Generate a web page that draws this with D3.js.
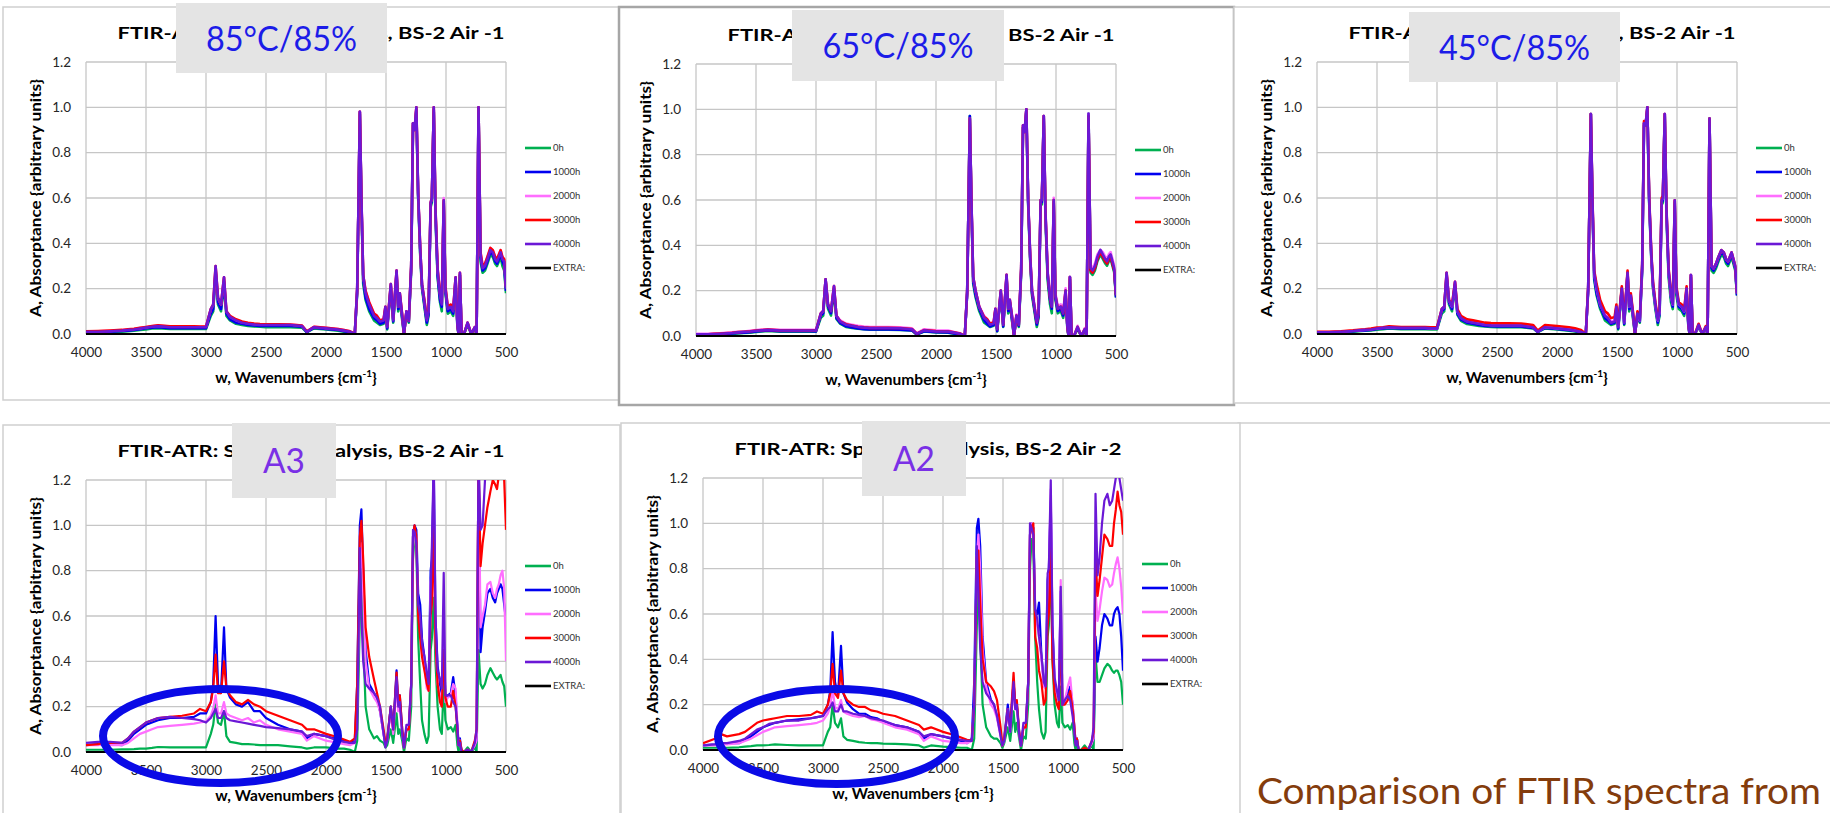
<!DOCTYPE html>
<html>
<head>
<meta charset="utf-8">
<script src="https://cdn.jsdelivr.net/npm/d3@7"></script>
<style>
  body { margin: 0; background: #fff; }
  svg text { font-family: Lato, 'Open Sans', sans-serif; }
</style>
</head>
<body>
<svg id="chart" width="1830" height="813"></svg>
<script>
// shared wavenumber grid (cm-1)
const wavenumbers = [
  4000, 3900, 3850, 3800, 3700, 3650, 3600, 3550, 3500, 3450,
  3400, 3300, 3200, 3100, 3050, 3000, 2960, 2940, 2920, 2900,
  2875, 2850, 2830, 2800, 2750, 2700, 2650, 2600, 2550, 2500,
  2400, 2300, 2200, 2160, 2100, 2000, 1900, 1850, 1800, 1760,
  1740, 1718, 1705, 1690, 1670, 1640, 1600, 1575, 1550, 1520,
  1505, 1490, 1460, 1440, 1412, 1398, 1385, 1365, 1350, 1330,
  1310, 1290, 1275, 1262, 1247, 1232, 1215, 1200, 1180, 1160,
  1145, 1128, 1118, 1102, 1088, 1070, 1050, 1035, 1019, 1005,
  985, 960, 940, 920, 905, 895, 884, 870, 850, 820,
  790, 760, 745, 729, 712, 695, 675, 655, 630, 610,
  590, 575, 560, 545, 530, 515, 500
];

const seriesNames = ['0h', '1000h', '2000h', '3000h', '4000h', 'EXTRA:'];
const seriesColors = ['#00b050', '#0000f0', '#ff6eff', '#ff0000', '#6b18d6', '#000000'];
const xTicks = [4000, 3500, 3000, 2500, 2000, 1500, 1000, 500];
const yTicks = [0, 0.2, 0.4, 0.6, 0.8, 1.0, 1.2];

// 85°C/85%
const t85_0h = [
  .005,.005,.006,.007,.01,.012,.014,.018,.02,.024,
  .026,.022,.022,.022,.022,.022,.08,.1,.27,.13,
  .1,.22,.08,.06,.045,.04,.035,.033,.032,.03,
  .03,.03,.028,.008,.025,.02,.015,.01,.005,0,
  .18,.97,.58,.22,.15,.1,.06,.05,.04,.045,
  .11,.02,.2,.05,.26,.1,.16,.06,0,.09,
  .05,.28,.92,.9,.98,.6,.35,.2,.12,.04,
  .08,.56,.58,.98,.52,.25,.14,.1,.57,.18,
  .09,.1,.08,.23,.03,0,.26,0,0,.04,
  0,.02,0,.99,.32,.27,.28,.31,.35,.34,
  .31,.3,.32,.34,.3,.28,.18
];
const t85_1000h = [
  .008,.008,.009,.01,.013,.015,.018,.021,.025,.028,
  .03,.026,.026,.026,.026,.026,.09,.11,.28,.14,
  .11,.23,.09,.065,.05,.045,.04,.038,.036,.035,
  .035,.035,.032,.008,.028,.022,.018,.012,.008,0,
  .19,.98,.59,.24,.16,.11,.07,.06,.045,.05,
  .11,.025,.21,.055,.27,.11,.17,.07,0,.095,
  .055,.29,.93,.9,.99,.61,.36,.21,.13,.05,
  .09,.57,.59,.99,.54,.26,.15,.12,.58,.19,
  .1,.11,.09,.24,.035,0,.26,0,0,.045,
  0,.025,0,1.0,.34,.28,.29,.32,.36,.35,
  .32,.31,.33,.35,.32,.3,.19
];
const t85_2000h = [
  .012,.012,.013,.014,.017,.02,.022,.026,.03,.034,
  .037,.033,.033,.033,.032,.032,.11,.13,.29,.16,
  .13,.25,.1,.078,.062,.052,.047,.044,.042,.042,
  .042,.042,.037,.012,.032,.027,.022,.017,.012,0,
  .2,.98,.6,.26,.19,.14,.09,.08,.06,.065,
  .12,.035,.22,.065,.28,.12,.18,.085,0,.1,
  .06,.3,.93,.9,1.0,.62,.38,.22,.15,.07,
  .11,.58,.6,1.0,.56,.29,.18,.14,.6,.21,
  .12,.13,.11,.25,.045,0,.27,0,0,.05,
  0,.03,0,1.0,.36,.3,.31,.34,.38,.37,
  .34,.33,.35,.37,.34,.33,.21
];
const t85_3000h = [
  .012,.013,.014,.015,.018,.021,.023,.027,.031,.035,
  .038,.034,.034,.034,.033,.033,.11,.13,.3,.16,
  .13,.25,.1,.08,.065,.055,.05,.046,.044,.043,
  .043,.042,.037,.012,.032,.027,.022,.017,.012,0,
  .2,.98,.6,.26,.19,.14,.09,.08,.06,.065,
  .12,.035,.22,.065,.28,.12,.18,.085,0,.1,
  .06,.3,.93,.9,1.0,.62,.38,.22,.15,.07,
  .11,.58,.6,1.0,.56,.29,.18,.14,.59,.21,
  .12,.13,.11,.25,.045,0,.27,0,0,.05,
  0,.03,0,1.0,.36,.3,.31,.34,.38,.37,
  .34,.33,.35,.37,.34,.33,.21
];
const t85_4000h = [
  .01,.01,.011,.012,.015,.018,.02,.024,.028,.032,
  .035,.03,.03,.03,.03,.03,.11,.13,.3,.16,
  .13,.25,.1,.075,.06,.05,.045,.042,.04,.04,
  .04,.04,.035,.01,.03,.025,.02,.015,.01,0,
  .2,.98,.6,.26,.18,.13,.08,.07,.055,.06,
  .12,.03,.22,.06,.28,.12,.18,.08,0,.1,
  .06,.3,.93,.9,1.0,.62,.38,.22,.14,.06,
  .1,.58,.6,1.0,.55,.28,.17,.13,.59,.2,
  .11,.12,.1,.25,.04,0,.27,0,0,.05,
  0,.03,0,1.0,.35,.29,.3,.33,.37,.36,
  .33,.32,.34,.36,.33,.32,.2
];

// 65°C/85%
const t65_0h = [
  .004,.004,.005,.006,.009,.011,.013,.015,.018,.02,
  .022,.019,.019,.019,.019,.019,.08,.09,.24,.12,
  .09,.2,.075,.055,.04,.036,.032,.03,.028,.028,
  .028,.027,.024,.006,.02,.016,.015,.01,.006,0,
  .19,.97,.58,.23,.17,.11,.06,.05,.04,.045,
  .11,.02,.19,.04,.26,.1,.15,.06,0,.08,
  .04,.28,.92,.9,.99,.58,.33,.18,.11,.04,
  .08,.58,.58,.96,.52,.25,.14,.1,.58,.16,
  .1,.11,.08,.18,.03,0,.25,0,0,.03,
  0,.02,0,.98,.28,.27,.29,.33,.36,.34,
  .32,.31,.33,.34,.31,.28,.17
];
const t65_1000h = [
  .006,.006,.007,.008,.011,.013,.015,.017,.02,.022,
  .024,.021,.021,.021,.021,.02,.09,.1,.25,.13,
  .1,.21,.08,.058,.043,.038,.033,.03,.029,.029,
  .029,.028,.025,.007,.021,.017,.016,.011,.007,0,
  .19,.97,.59,.24,.18,.12,.07,.055,.042,.048,
  .11,.022,.19,.042,.26,.11,.15,.065,0,.085,
  .045,.29,.92,.9,1.0,.59,.34,.19,.12,.05,
  .09,.59,.59,.97,.54,.27,.16,.12,.59,.17,
  .11,.12,.09,.19,.035,0,.26,0,0,.035,
  0,.025,0,.98,.29,.28,.3,.34,.37,.35,
  .33,.32,.34,.35,.32,.29,.17
];
const t65_2000h = [
  .01,.01,.011,.012,.016,.018,.02,.023,.026,.028,
  .03,.027,.027,.027,.027,.027,.1,.11,.25,.14,
  .12,.22,.09,.07,.055,.05,.045,.042,.04,.04,
  .04,.038,.034,.012,.03,.025,.024,.018,.012,0,
  .2,.96,.6,.26,.2,.13,.09,.075,.055,.06,
  .12,.035,.2,.055,.27,.12,.16,.085,0,.095,
  .055,.3,.93,.9,1.0,.6,.36,.21,.14,.07,
  .11,.6,.6,.97,.56,.29,.18,.14,.61,.19,
  .13,.14,.11,.21,.045,0,.26,0,0,.045,
  0,.035,0,.98,.31,.3,.32,.36,.38,.37,
  .35,.34,.36,.37,.34,.31,.19
];
const t65_3000h = [
  .008,.008,.01,.011,.014,.017,.019,.021,.024,.026,
  .028,.025,.025,.025,.025,.025,.1,.11,.25,.14,
  .11,.22,.09,.066,.052,.046,.041,.038,.036,.036,
  .036,.035,.031,.01,.026,.022,.021,.016,.011,0,
  .2,.96,.6,.26,.2,.13,.085,.075,.055,.06,
  .12,.03,.2,.05,.27,.12,.16,.08,0,.09,
  .05,.3,.93,.9,1.0,.6,.35,.2,.13,.06,
  .1,.6,.6,.97,.55,.28,.17,.13,.6,.18,
  .12,.13,.1,.2,.04,0,.26,0,0,.04,
  0,.03,0,.97,.29,.28,.3,.34,.37,.35,
  .33,.32,.34,.35,.32,.29,.18
];
const t65_4000h = [
  .008,.008,.009,.01,.013,.016,.018,.02,.023,.025,
  .027,.024,.024,.024,.024,.024,.1,.11,.25,.14,
  .11,.22,.09,.065,.05,.045,.04,.037,.035,.035,
  .035,.034,.03,.01,.025,.02,.02,.015,.01,0,
  .2,.96,.6,.26,.2,.13,.08,.07,.05,.055,
  .12,.03,.2,.05,.27,.12,.16,.08,0,.09,
  .05,.3,.93,.9,1.0,.6,.35,.2,.13,.06,
  .1,.6,.6,.97,.55,.28,.17,.13,.6,.18,
  .12,.13,.1,.2,.04,0,.26,0,0,.04,
  0,.03,0,.98,.3,.29,.31,.35,.38,.36,
  .34,.33,.35,.36,.33,.3,.18
];

// 45°C/85%
const t45_0h = [
  .005,.005,.006,.007,.01,.012,.014,.016,.019,.021,
  .024,.021,.021,.021,.02,.02,.09,.1,.25,.13,
  .1,.21,.085,.058,.044,.04,.036,.033,.031,.03,
  .03,.03,.025,.008,.025,.02,.015,.011,.007,0,
  .19,.97,.58,.24,.17,.11,.06,.05,.04,.045,
  .11,.02,.19,.04,.26,.1,.16,.06,0,.08,
  .05,.28,.92,.92,.99,.58,.34,.2,.11,.04,
  .08,.57,.58,.96,.52,.25,.14,.11,.57,.17,
  .11,.1,.08,.18,.03,0,.25,0,0,.03,
  0,.02,0,.95,.28,.27,.29,.32,.35,.34,
  .31,.3,.32,.34,.31,.28,.17
];
const t45_1000h = [
  .007,.007,.008,.009,.012,.014,.016,.018,.022,.024,
  .027,.024,.024,.024,.023,.023,.1,.11,.26,.14,
  .11,.22,.09,.064,.05,.045,.04,.036,.034,.033,
  .033,.033,.027,.009,.027,.022,.017,.013,.008,0,
  .2,.97,.59,.25,.18,.12,.07,.06,.045,.05,
  .11,.025,.2,.045,.27,.11,.16,.07,0,.085,
  .055,.29,.93,.92,1.0,.59,.35,.21,.12,.05,
  .09,.58,.59,.97,.54,.27,.16,.12,.58,.19,
  .12,.11,.09,.19,.035,0,.26,0,0,.035,
  0,.025,0,.95,.29,.28,.3,.33,.36,.35,
  .32,.31,.33,.35,.32,.29,.17
];
const t45_2000h = [
  .009,.009,.01,.011,.014,.017,.019,.021,.025,.028,
  .031,.028,.028,.028,.026,.026,.11,.12,.27,.15,
  .12,.23,.1,.072,.057,.052,.047,.042,.04,.039,
  .039,.039,.032,.011,.031,.026,.021,.016,.011,0,
  .2,.97,.6,.27,.2,.13,.085,.075,.055,.06,
  .12,.032,.2,.052,.27,.12,.17,.082,0,.09,
  .06,.3,.93,.92,1.0,.6,.36,.22,.13,.06,
  .1,.59,.6,.97,.55,.28,.17,.13,.59,.2,
  .13,.12,.1,.2,.04,0,.26,0,0,.04,
  0,.03,0,.95,.3,.29,.31,.34,.37,.36,
  .33,.32,.34,.36,.33,.3,.18
];
const t45_3000h = [
  .01,.01,.011,.012,.016,.019,.021,.024,.028,.03,
  .034,.031,.031,.031,.03,.03,.11,.12,.27,.15,
  .13,.23,.11,.08,.065,.06,.055,.05,.048,.047,
  .047,.046,.04,.015,.04,.035,.03,.025,.018,0,
  .21,.97,.61,.28,.22,.15,.1,.09,.07,.075,
  .13,.04,.21,.065,.28,.13,.18,.09,0,.1,
  .07,.31,.94,.92,1.0,.61,.37,.23,.14,.07,
  .11,.6,.61,.97,.56,.29,.18,.14,.59,.21,
  .14,.13,.11,.21,.045,0,.26,0,0,.045,
  0,.035,0,.95,.3,.29,.31,.34,.37,.36,
  .33,.32,.34,.36,.33,.3,.18
];
const t45_4000h = [
  .008,.008,.009,.01,.013,.016,.018,.02,.024,.027,
  .03,.027,.027,.027,.025,.025,.11,.12,.27,.15,
  .12,.23,.1,.07,.055,.05,.045,.04,.038,.037,
  .037,.037,.03,.01,.03,.025,.02,.015,.01,0,
  .2,.97,.6,.27,.2,.13,.08,.07,.05,.055,
  .12,.03,.2,.05,.27,.12,.17,.08,0,.09,
  .06,.3,.93,.92,1.0,.6,.36,.22,.13,.06,
  .1,.59,.6,.97,.55,.28,.17,.13,.59,.2,
  .13,.12,.1,.2,.04,0,.26,0,0,.04,
  0,.03,0,.95,.3,.29,.31,.34,.37,.36,
  .33,.32,.34,.36,.33,.3,.18
];

// A3 (BS-2 Air -1)
const a3_0h = [
  .01,.01,.01,.01,.012,.012,.013,.015,.015,.018,
  .022,.02,.02,.02,.02,.02,.08,.12,.21,.13,
  .12,.18,.07,.045,.04,.035,.035,.033,.03,.03,
  .03,.025,.02,.015,.02,.02,.015,.015,.01,0,
  .05,.6,.88,.5,.2,.1,.06,.07,.05,.04,
  .02,.03,.1,.04,.17,.08,.1,.05,0,.06,
  .05,.2,.85,.95,.9,.5,.3,.14,.08,.04,
  .07,.45,.5,.68,.4,.2,.1,.08,.3,.14,
  .1,.11,.09,.12,.03,0,.05,0,0,.02,
  0,.02,0,.45,.3,.28,.3,.34,.37,.35,
  .33,.32,.33,.34,.31,.29,.2
];
const a3_1000h = [
  .03,.035,.033,.035,.03,.05,.08,.1,.12,.13,
  .14,.15,.15,.155,.17,.17,.22,.3,.6,.3,
  .26,.55,.28,.24,.21,.2,.22,.18,.18,.15,
  .12,.1,.09,.06,.08,.07,.055,.05,.04,.05,
  .3,1.0,1.07,.8,.45,.3,.26,.24,.18,.08,
  .03,.05,.2,.1,.36,.2,.25,.1,.02,.1,
  .1,.3,.95,1.0,.98,.7,.65,.5,.42,.32,
  .3,.8,.85,1.25,.6,.38,.3,.25,.5,.24,
  .25,.26,.33,.25,.1,.03,.06,0,0,.01,
  0,.03,.05,1.3,.44,.55,.62,.7,.72,.68,
  .66,.7,.72,.74,.72,.65,.58
];
const a3_2000h = [
  .03,.03,.035,.03,.03,.04,.06,.08,.09,.1,
  .11,.115,.12,.125,.13,.135,.16,.19,.25,.17,
  .17,.22,.17,.16,.15,.14,.15,.13,.14,.12,
  .1,.09,.08,.05,.07,.05,.04,.035,.03,.04,
  .2,.8,.92,.7,.4,.28,.24,.22,.18,.08,
  .03,.05,.18,.08,.3,.18,.2,.08,.02,.1,
  .1,.3,.9,.98,.95,.62,.55,.45,.38,.28,
  .27,.75,.8,1.1,.5,.3,.25,.22,.6,.22,
  .24,.25,.3,.28,.12,.03,.05,0,0,.01,
  0,.03,.05,1.3,.55,.6,.65,.74,.75,.7,
  .68,.72,.74,.78,.8,.72,.4
];
const a3_3000h = [
  .03,.035,.04,.04,.04,.06,.09,.11,.13,.14,
  .15,.155,.16,.17,.19,.18,.22,.28,.43,.26,
  .26,.4,.28,.25,.22,.21,.23,.21,.2,.18,
  .16,.14,.12,.1,.1,.08,.065,.055,.045,.06,
  .3,.95,1.02,.85,.55,.42,.32,.26,.2,.1,
  .04,.06,.2,.1,.35,.22,.25,.1,.02,.1,
  .1,.3,.95,1.0,.95,.6,.5,.42,.36,.3,
  .27,.6,.65,1.0,.5,.3,.22,.2,.45,.24,
  .2,.2,.27,.2,.1,.03,.05,.01,0,.01,
  0,.05,.1,1.3,.82,.92,1.0,1.08,1.15,1.2,
  1.18,1.16,1.22,1.25,1.22,1.2,.98
];
const a3_4000h = [
  .04,.045,.045,.045,.04,.06,.09,.11,.13,.14,
  .15,.155,.15,.145,.14,.13,.15,.17,.19,.15,
  .15,.18,.15,.14,.135,.13,.125,.12,.115,.11,
  .105,.1,.09,.07,.08,.07,.05,.045,.04,.04,
  .1,.9,.6,.4,.3,.28,.26,.24,.2,.08,
  .02,.05,.2,.1,.33,.2,.22,.08,.02,.12,
  .12,.3,.98,.97,.92,.65,.6,.48,.42,.35,
  .3,.7,.9,1.3,.6,.36,.32,.28,.79,.25,
  .25,.25,.22,.2,.12,.03,.04,0,0,.01,
  0,.04,.1,1.3,.98,1.0,1.2,1.3,1.3,1.3,
  1.3,1.3,1.3,1.3,1.3,1.3,1.3
];

// A2 (BS-2 Air -2)
const a2_0h = [
  .01,.01,.01,.01,.012,.015,.017,.02,.02,.022,
  .025,.022,.02,.02,.02,.02,.08,.1,.2,.12,
  .1,.14,.06,.045,.04,.035,.032,.03,.03,.028,
  .027,.025,.02,.01,.02,.015,.012,.01,.01,0,
  .05,.55,.85,.5,.2,.1,.06,.05,.05,.03,
  .01,.03,.1,.04,.17,.08,.12,.05,0,.06,
  .05,.2,.8,.93,.9,.5,.3,.18,.08,.05,
  .08,.5,.55,.85,.4,.2,.12,.1,.28,.12,
  .1,.11,.09,.12,.03,0,.05,0,0,.02,
  0,.02,0,.42,.3,.3,.33,.36,.38,.37,
  .35,.34,.35,.35,.33,.3,.2
];
const a2_1000h = [
  .02,.025,.03,.03,.03,.045,.06,.08,.1,.11,
  .12,.13,.135,.14,.145,.15,.2,.26,.52,.3,
  .24,.46,.25,.21,.18,.16,.16,.145,.14,.125,
  .11,.1,.08,.05,.07,.06,.045,.04,.03,.05,
  .3,.98,1.02,.9,.5,.3,.22,.2,.15,.07,
  .02,.05,.2,.1,.3,.2,.2,.08,.02,.1,
  .1,.3,.95,1.0,.98,.62,.6,.65,.42,.3,
  .28,.75,.8,1.1,.55,.3,.25,.22,.7,.2,
  .22,.25,.28,.2,.1,.03,.05,0,0,0,
  0,.03,.05,.5,.39,.45,.55,.6,.58,.55,
  .55,.6,.62,.63,.6,.5,.35
];
const a2_2000h = [
  .02,.02,.025,.025,.03,.04,.05,.065,.08,.09,
  .1,.105,.11,.115,.12,.13,.16,.19,.27,.19,
  .18,.22,.17,.16,.15,.145,.15,.135,.13,.12,
  .1,.09,.07,.04,.06,.04,.035,.03,.03,.04,
  .2,.85,.95,.8,.45,.28,.2,.18,.14,.06,
  .02,.04,.18,.08,.28,.18,.18,.07,.02,.1,
  .1,.3,.95,1.0,.97,.6,.55,.5,.4,.28,
  .27,.7,.78,1.15,.5,.3,.24,.22,.75,.2,
  .22,.28,.32,.2,.1,.03,.05,0,0,0,
  0,.03,.05,.7,.57,.62,.7,.76,.75,.72,
  .73,.78,.82,.85,.8,.72,.6
];
const a2_3000h = [
  .03,.05,.07,.06,.07,.08,.1,.12,.13,.135,
  .14,.15,.15,.155,.17,.16,.2,.25,.38,.25,
  .23,.35,.25,.22,.2,.19,.19,.175,.17,.16,
  .15,.13,.11,.09,.1,.08,.065,.055,.045,.04,
  .2,.85,.88,.65,.4,.3,.28,.26,.22,.1,
  .02,.05,.18,.1,.34,.2,.22,.08,.02,.1,
  .1,.3,.95,.98,1.0,.5,.45,.35,.3,.2,
  .22,.55,.6,.9,.4,.25,.2,.18,.55,.2,
  .2,.22,.26,.18,.1,.03,.05,0,0,.01,
  0,.04,.08,.85,.68,.75,.85,.95,.93,.9,
  .9,1.0,1.06,1.14,1.08,1.05,.95
];
const a2_4000h = [
  .02,.025,.03,.03,.04,.05,.07,.09,.1,.115,
  .12,.13,.13,.14,.145,.15,.18,.19,.21,.17,
  .17,.2,.17,.17,.16,.155,.15,.14,.135,.13,
  .11,.1,.08,.06,.07,.06,.05,.045,.04,.04,
  .2,.9,.7,.45,.3,.25,.22,.2,.15,.06,
  .02,.04,.18,.08,.3,.18,.2,.07,.02,.12,
  .12,.3,1.0,.98,.95,.62,.58,.5,.42,.3,
  .28,.78,.8,1.19,.55,.32,.26,.22,.72,.2,
  .22,.24,.22,.15,.08,.02,.04,0,0,0,
  0,.04,.1,1.13,.77,.85,1.0,1.1,1.13,1.08,
  1.1,1.15,1.2,1.22,1.2,1.15,1.1
];

const PW = 420;
const PH = 272;
const title1 = 'FTIR-ATR: Spectral Analysis, BS-2 Air -1';
const title2 = 'FTIR-ATR: Spectral Analysis, BS-2 Air -2';

const panels = [
  { frame: [3, 7, 617, 393], plot: [86, 62], title: title1, tag: '85°C/85%', tagBox: [176, 3, 211, 70],
    tagColor: '#1c1ce8', tagLen: 151, lw: 2.6, series: [t85_0h, t85_1000h, t85_2000h, t85_3000h, t85_4000h] },
  { frame: [619, 7, 615, 398], plot: [696, 64], title: title1, tag: '65°C/85%', tagBox: [792, 10, 212, 71],
    tagColor: '#1c1ce8', tagLen: 151, lw: 2.6, dark: true, series: [t65_0h, t65_1000h, t65_2000h, t65_3000h, t65_4000h] },
  { frame: [1234, 7, 610, 396], plot: [1317, 62], title: title1, tag: '45°C/85%', tagBox: [1409, 12, 211, 70],
    tagColor: '#1c1ce8', tagLen: 151, lw: 2.6, series: [t45_0h, t45_1000h, t45_2000h, t45_3000h, t45_4000h] },
  { frame: [3, 425, 617, 400], plot: [86, 480], title: title1, tag: 'A3', tagBox: [232, 423, 104, 75],
    tagColor: '#7a30e6', tagLen: 42, lw: 2.2, series: [a3_0h, a3_1000h, a3_2000h, a3_3000h, a3_4000h],
    ellipse: [220.5, 736, 117.5, 47] },
  { frame: [621, 423, 619, 400], plot: [703, 478], title: title2, tag: 'A2', tagBox: [862, 421, 104, 75],
    tagColor: '#7a30e6', tagLen: 42, lw: 2.2, series: [a2_0h, a2_1000h, a2_2000h, a2_3000h, a2_4000h],
    ellipse: [836.5, 736.5, 118.5, 47.5] }
];

const svg = d3.select('#chart');
const defs = svg.append('defs');

svg.append('rect').attr('width', 1830).attr('height', 813).attr('fill', '#fff');

// empty sixth frame
svg.append('rect')
  .attr('x', 1238).attr('y', 423).attr('width', 610).attr('height', 400)
  .attr('fill', 'none').attr('stroke', '#cfcfcf').attr('stroke-width', 1.5);

panels.forEach((p, i) => {
  const [px, py] = p.plot;
  const x = d3.scaleLinear().domain([4000, 500]).range([px, px + PW]);
  const y = d3.scaleLinear().domain([0, 1.2]).range([py + PH, py]);
  const g = svg.append('g').attr('class', 'panel');

  const [fx, fy, fw, fh] = p.frame;
  g.append('rect')
    .attr('x', fx).attr('y', fy).attr('width', fw).attr('height', fh)
    .attr('fill', '#fff')
    .attr('stroke', p.dark ? '#a6a6a6' : '#cfcfcf')
    .attr('stroke-width', p.dark ? 2.5 : 1.5);

  // gridlines
  g.append('g').selectAll('line').data(yTicks).join('line')
    .attr('x1', px).attr('x2', px + PW)
    .attr('y1', d => y(d)).attr('y2', d => y(d))
    .attr('stroke', '#c6c6c6').attr('stroke-width', 1.3);
  g.append('g').selectAll('line').data(xTicks).join('line')
    .attr('x1', d => x(d)).attr('x2', d => x(d))
    .attr('y1', py).attr('y2', py + PH)
    .attr('stroke', '#c6c6c6').attr('stroke-width', 1.3);

  defs.append('clipPath').attr('id', `clip${i}`)
    .append('rect').attr('x', px).attr('y', py).attr('width', PW).attr('height', PH);

  const line = d3.line().x(d => x(d[0])).y(d => y(d[1]));

  g.append('g').attr('clip-path', `url(#clip${i})`)
    .selectAll('path').data(p.series).join('path')
    .attr('d', s => line(wavenumbers.map((w, k) => [w, s[k]])))
    .attr('fill', 'none')
    .attr('stroke', (s, k) => seriesColors[k])
    .attr('stroke-width', p.lw)
    .attr('stroke-linejoin', 'round');

  // zero line
  g.append('line')
    .attr('x1', px).attr('x2', px + PW)
    .attr('y1', y(0)).attr('y2', y(0))
    .attr('stroke', '#000').attr('stroke-width', 2.2);

  const yAxis = d3.axisLeft(y).tickValues(yTicks).tickFormat(d3.format('.1f')).tickSize(0).tickPadding(15);
  g.append('g').attr('transform', `translate(${px},0)`).call(yAxis)
    .call(a => a.select('.domain').remove())
    .call(a => a.selectAll('text').attr('font-size', 13.5).attr('fill', '#262626').attr('font-family', 'Lato'));

  const xAxis = d3.axisBottom(x).tickValues(xTicks).tickFormat(d3.format('d')).tickSize(0).tickPadding(13);
  g.append('g').attr('transform', `translate(0,${py + PH})`).call(xAxis)
    .call(a => a.select('.domain').remove())
    .call(a => a.selectAll('text').attr('font-size', 13.5).attr('fill', '#262626').attr('font-family', 'Lato'));

  // titles
  g.append('text')
    .attr('x', px + 225).attr('y', py - 23)
    .attr('text-anchor', 'middle')
    .attr('font-size', 17.5).attr('font-weight', 700).attr('fill', '#000')
    .attr('textLength', 387).attr('lengthAdjust', 'spacingAndGlyphs')
    .text(p.title);

  g.append('text')
    .attr('transform', `translate(${px - 45},${py + PH / 2}) rotate(-90)`)
    .attr('text-anchor', 'middle')
    .attr('font-size', 15.5).attr('font-weight', 700).attr('fill', '#000')
    .attr('textLength', 238).attr('lengthAdjust', 'spacingAndGlyphs')
    .text('A, Absorptance {arbitrary units}');

  const xt = g.append('text')
    .attr('x', px + PW / 2).attr('y', py + PH + 49)
    .attr('text-anchor', 'middle')
    .attr('font-size', 15.5).attr('font-weight', 700).attr('fill', '#000');
  xt.append('tspan').text('w, Wavenumbers {cm');
  xt.append('tspan').attr('dy', -6).attr('font-size', 10).text('-1');
  xt.append('tspan').attr('dy', 6).text('}');

  // legend
  const lg = g.append('g').attr('transform', `translate(${px + PW + 19},${py + 86})`);
  seriesNames.forEach((name, k) => {
    lg.append('line')
      .attr('x1', 0).attr('x2', 26).attr('y1', k * 24).attr('y2', k * 24)
      .attr('stroke', seriesColors[k]).attr('stroke-width', 2.6);
    lg.append('text')
      .attr('x', 28).attr('y', k * 24).attr('dy', '0.35em')
      .attr('font-size', 9.5).attr('fill', '#333')
      .text(name);
  });

  // grey tag box sits over the middle of the title, as in the slide
  const [bx, by, bw, bh] = p.tagBox;
  g.append('rect').attr('x', bx).attr('y', by).attr('width', bw).attr('height', bh).attr('fill', '#e4e4e4');
  g.append('text')
    .attr('x', bx + bw / 2).attr('y', by + bh / 2 + 12.5)
    .attr('text-anchor', 'middle')
    .attr('font-size', 35).attr('fill', p.tagColor)
    .attr('textLength', p.tagLen).attr('lengthAdjust', 'spacingAndGlyphs')
    .text(p.tag);

  if (p.ellipse) {
    const [cx, cy, rx, ry] = p.ellipse;
    g.append('ellipse')
      .attr('cx', cx).attr('cy', cy).attr('rx', rx).attr('ry', ry)
      .attr('fill', 'none').attr('stroke', '#0a0ae6').attr('stroke-width', 8);
  }
});

svg.append('text')
  .attr('x', 1257).attr('y', 804)
  .attr('font-size', 37).attr('fill', '#843c0c')
  .attr('textLength', 564).attr('lengthAdjust', 'spacingAndGlyphs')
  .text('Comparison of FTIR spectra from');
</script>
</body>
</html>
